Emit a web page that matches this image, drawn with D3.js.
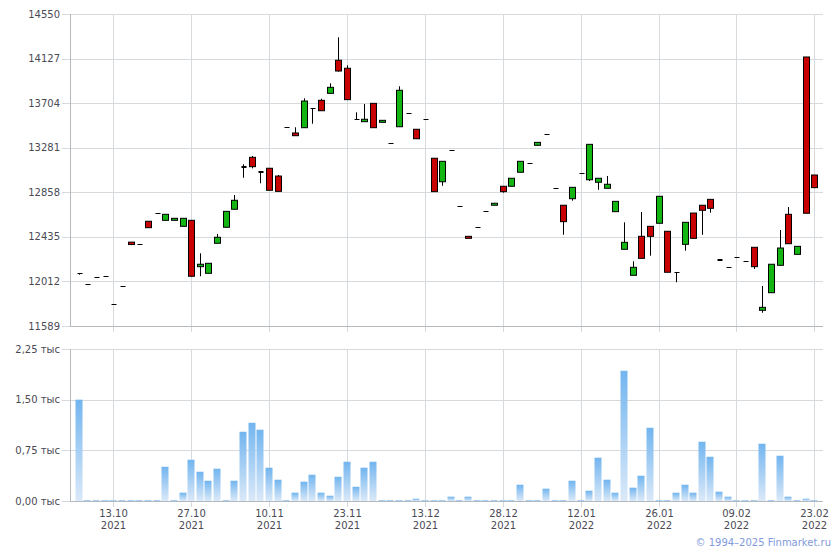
<!DOCTYPE html>
<html><head><meta charset="utf-8">
<script src="https://cdn.jsdelivr.net/npm/d3@7"></script>
<style>body{margin:0;background:#fff}svg{display:block}</style>
</head><body>
<svg id="c" width="840" height="550"></svg>
<script>
const openV  = [12089,11985,12051,12061,11795,11966,12385,12364,12583,12658,12592,12592,12535,12592,12152,12089,12374,12526,12697,13095,13190,13058,13086,13012,13475,13421,13471,13655,13731,13797,14111,14035,13556,13528,13702,13522,13323,13480,13608,13456,13551,13181,12958,13256,12725,12440,12526,12677,12735,12915,12915,13048,13133,13304,13408,12896,12735,12797,13038,12977,12953,12896,12674,12317,12070,12440,12535,12564,12488,12099,12364,12661,12735,12791,12224,12149,12241,12203,12336,11738,11905,12165,12649,12269,14142,13022];
const closeV = [12089,11985,12051,12061,11795,11966,12362,12364,12522,12658,12649,12611,12611,12061,12175,12184,12431,12677,12782,13105,13101,13048,12877,12867,13475,13395,13724,13655,13632,13854,14009,13737,13556,13551,13471,13541,13323,13826,13608,13366,13551,12864,13152,13256,12725,12421,12526,12677,12754,12864,12991,13152,13133,13332,13408,12896,12579,12905,13038,13313,12991,12934,12772,12383,12146,12231,12440,12820,12099,12099,12573,12421,12687,12706,12212,12149,12241,12203,12152,11766,12175,12329,12370,12345,12659,12902];
const highV  = [12089,11985,12051,12061,11795,11966,12385,12364,12583,12658,12649,12611,12611,12592,12279,12184,12462,12677,12832,13124,13202,13058,13086,13022,13475,13475,13750,13655,13746,13892,14329,14063,13617,13696,13702,13541,13323,13864,13608,13456,13551,13181,13152,13256,12725,12440,12526,12677,12754,12915,12991,13152,13133,13332,13408,12896,12735,12905,13038,13313,12991,13013,12772,12573,12203,12671,12535,12820,12488,12099,12573,12661,12735,12791,12224,12149,12241,12203,12336,11969,12175,12500,12718,12345,14142,13022];
const lowV   = [12076,11985,12051,12061,11795,11966,12362,12364,12522,12658,12592,12592,12535,12061,12061,12089,12374,12526,12697,12996,13085,12943,12877,12867,13475,13395,13471,13509,13632,13797,14002,13737,13544,13528,13471,13522,13323,13480,13608,13366,13551,12864,12920,13256,12725,12421,12526,12677,12735,12854,12915,13048,13133,13304,13408,12896,12455,12778,13038,12965,12882,12896,12674,12317,12070,12231,12256,12564,12099,12004,12304,12421,12455,12664,12212,12149,12241,12203,12130,11715,11905,12165,12370,12269,12659,12902];
const volumeV = [1.50,0.015,0.015,0.015,0.015,0.015,0.015,0.015,0.015,0.015,0.507,0.015,0.123,0.611,0.433,0.300,0.478,0.015,0.300,1.025,1.158,1.055,0.493,0.315,0.015,0.123,0.286,0.389,0.123,0.078,0.359,0.581,0.211,0.493,0.581,0.015,0.015,0.015,0.015,0.034,0.015,0.015,0.015,0.064,0.015,0.064,0.015,0.015,0.015,0.015,0.015,0.241,0.015,0.015,0.182,0.015,0.015,0.300,0.015,0.152,0.641,0.315,0.123,1.928,0.197,0.374,1.084,0.015,0.015,0.123,0.241,0.123,0.877,0.655,0.138,0.064,0.015,0.015,0.015,0.848,0.015,0.670,0.064,0.015,0.034,0.015];
const tickIndex = [4,13,22,31,40,49,58,67,76,85];
const tickDates = ["13.10","27.10","10.11","23.11","13.12","28.12","12.01","26.01","09.02","23.02"];
const tickYears = ["2021","2021","2021","2021","2021","2021","2022","2022","2022","2022"];
const priceTicks = [11589,12012,12435,12858,13281,13704,14127,14550];
const volTicks = [0,0.75,1.5,2.25];
const volTickLabels = ["0,00 тыс","0,75 тыс","1,50 тыс","2,25 тыс"];

const svg = d3.select("#c");
const L = 70, R = 823;
const idx = d3.range(openV.length);
const x = d3.scalePoint().domain(idx).range([L, R]).padding(1);
const y = d3.scaleLinear().domain([11589,14550]).range([326,14]);
const yv = d3.scaleLinear().domain([0,2.25]).range([501,349]);
const gridC = "#d6dadd", axisC = "#b4b9be", txtC = "#4a4a55";
const font = "DejaVu Sans, Verdana, sans-serif";

const defs = svg.append("defs");
const gr = defs.append("linearGradient").attr("id","vg").attr("x1",0).attr("y1",0).attr("x2",0).attr("y2",1);
gr.append("stop").attr("offset","0%").attr("stop-color","#72b5ef");
gr.append("stop").attr("offset","100%").attr("stop-color","#dbe9f8");

function panel(scale, ticks, labels, top, bottom) {
  const g = svg.append("g");
  g.selectAll("line.h").data(ticks).join("line")
    .attr("x1", L-8).attr("x2", R).attr("y1", d=>Math.round(scale(d))+0.5).attr("y2", d=>Math.round(scale(d))+0.5)
    .attr("stroke", gridC);
  g.selectAll("line.v").data(tickIndex).join("line")
    .attr("x1", d=>Math.round(x(d))+0.5).attr("x2", d=>Math.round(x(d))+0.5)
    .attr("y1", top).attr("y2", bottom+6).attr("stroke", gridC);
  g.append("line").attr("x1", L+0.5).attr("x2", L+0.5).attr("y1", top).attr("y2", bottom).attr("stroke", axisC);
  g.append("line").attr("x1", L).attr("x2", R).attr("y1", bottom+0.5).attr("y2", bottom+0.5).attr("stroke", axisC);
  g.selectAll("text").data(ticks).join("text")
    .attr("x", L-10).attr("y", d=>scale(d)).attr("dy","0.35em")
    .attr("text-anchor","end").attr("font-family",font).attr("font-size",10).attr("fill",txtC)
    .text((d,i)=>labels[i]);
}
panel(y, priceTicks, priceTicks.map(String), 14, 326);
panel(yv, volTicks, volTickLabels, 349, 501);

// volume bars
svg.append("g").selectAll("rect").data(idx).join("rect")
  .attr("x", i=>Math.round(x(i))-3.5).attr("width",7)
  .attr("y", i=>yv(volumeV[i])).attr("height", i=>501-yv(volumeV[i]))
  .attr("fill","url(#vg)");

// candles
const cg = svg.append("g");
cg.selectAll("line.w").data(idx.filter(i=>highV[i]!==lowV[i])).join("line")
  .attr("x1", i=>Math.round(x(i))+0.5).attr("x2", i=>Math.round(x(i))+0.5)
  .attr("y1", i=>y(highV[i])).attr("y2", i=>y(lowV[i])).attr("stroke","#000");
const bodyH = i => Math.abs(y(openV[i]) - y(closeV[i]));
const bodies = idx.filter(i=>bodyH(i) >= 1.6);
const dojis = idx.filter(i=>bodyH(i) < 1.6);
cg.selectAll("rect.b").data(bodies).join("rect")
  .attr("x", i=>Math.round(x(i))-2.5).attr("width",6)
  .attr("y", i=>y(Math.max(openV[i],closeV[i]))).attr("height", bodyH)
  .attr("fill", i=>closeV[i]>=openV[i] ? "#13b513" : "#c80000")
  .attr("stroke","#000").attr("stroke-width",1);
cg.selectAll("rect.d").data(dojis).join("rect")
  .attr("x", i=>Math.round(x(i))-1.5).attr("width",5)
  .attr("y", i=>Math.round(y(Math.max(openV[i],closeV[i])))).attr("height", i=>bodyH(i)>0.5?2:1)
  .attr("fill","#000");

// x labels
const xl = svg.append("g").attr("font-family",font).attr("font-size",10).attr("fill",txtC).attr("text-anchor","middle");
xl.selectAll("text.d").data(tickIndex).join("text").attr("x", d=>Math.round(x(d))+0.5).attr("y",517).text((d,i)=>tickDates[i]);
xl.selectAll("text.yr").data(tickIndex).join("text").attr("x", d=>Math.round(x(d))+0.5).attr("y",529).text((d,i)=>tickYears[i]);

svg.append("text").attr("x",831).attr("y",546).attr("text-anchor","end")
  .attr("font-family",font).attr("font-size",10).attr("fill","#7f9bdc").text("© 1994–2025 Finmarket.ru");
</script>
</body></html>
